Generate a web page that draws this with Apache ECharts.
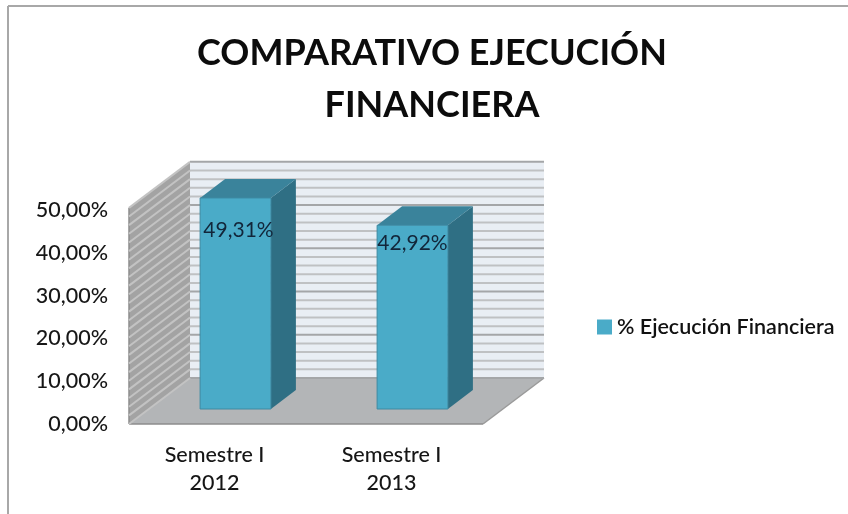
<!DOCTYPE html>
<html><head><meta charset="utf-8">
<style>html,body{margin:0;padding:0;background:#fff}#c{width:848px;height:514px}</style>
<script src="https://cdn.jsdelivr.net/npm/echarts@6/dist/echarts.min.js"></script>
</head><body><div id="c"></div>
<script>
const categories = ['Semestre I\n2012', 'Semestre I\n2013'];
const seriesName = '% Ejecución Financiera';
const values = [49.31, 42.92];
const valueLabels = ['49,31%', '42,92%'];
const gridValues = [0,2,4,6,8,10,12,14,16,18,20,22,24,26,28,30,32,34,36,38,40,42,44,46,48,50];
const majorValues = [0,10,20,30,40,50];
const tickLabels = ['0,00%','10,00%','20,00%','30,00%','40,00%','50,00%'];
const titleText = 'COMPARATIVO EJECUCIÓN\nFINANCIERA';

const FONT = 'Lato';
const WALL = [61, -46], INSET = [18, -15], BAR = [25, -19];
const WALL_SCALE = 1.01;
const LABEL_DROP = [32, 18], LABEL_SHIFT = [3, 0];

const poly = (pts, fill, stroke) => ({type:'polygon', shape:{points:pts},
  style:{fill, stroke: stroke || null, lineWidth: stroke ? 1 : 0}});

const chart = echarts.init(document.getElementById('c'), null, {renderer:'canvas'});
chart.setOption({
  animation:false,
  backgroundColor:'#fff',
  title:{text:titleText, left:432, top:27, padding:0, textAlign:'center',
    textStyle:{fontFamily:FONT, fontSize:36, fontWeight:'bold', color:'#0c0c0c', lineHeight:52}},
  legend:{data:[seriesName], left:597, top:316, padding:0, itemWidth:15, itemHeight:15, itemGap:3, icon:'rect',
    selectedMode:false,
    textStyle:{fontFamily:FONT, fontSize:21.5, fontWeight:600, color:'#111', padding:[0,0,0,0]}},
  grid:{left:129, top:210, width:354, height:214},
  xAxis:{type:'category', data:categories, axisLine:{show:false}, axisTick:{show:false},
    axisLabel:{fontFamily:FONT, fontSize:21.5, fontWeight:500, lineHeight:28, color:'#161616', margin:17, interval:0, padding:[0,6,0,0]}},
  yAxis:{type:'value', min:0, max:50, interval:10, splitLine:{show:false}, axisLine:{show:false}, axisTick:{show:false},
    axisLabel:{fontFamily:FONT, fontSize:21.5, fontWeight:500, color:'#161616', margin:21,
      formatter:v => tickLabels[majorValues.indexOf(v)]}},
  series:[
    {type:'custom', name:'walls', silent:true, z:1, data:[[0,50]], encode:{x:-1,y:[0,1]},
     renderItem(p, api){
       const a = api.coord([0, 0]), t = api.coord([0, 50]);
       const x0 = p.coordSys.x, x1 = x0 + p.coordSys.width, y0 = a[1], yT = y0 - (y0 - t[1]) * WALL_SCALE;
       const bx0 = x0 + WALL[0], bx1 = x1 + WALL[0], by0 = y0 + WALL[1], byT = yT + WALL[1];
       return {type:'group', children:[
         poly([[bx0,byT],[bx1,byT],[bx1,by0],[bx0,by0]], '#e9eef4'),
         poly([[x0,y0],[x0,yT],[bx0,byT],[bx0,by0]], '#a3a3a3'),
         poly([[x0,y0],[x1,y0],[bx1,by0],[bx0,by0]], '#b3b5b7'),
         {type:'line', shape:{x1:x0,y1:y0,x2:x1,y2:y0}, style:{stroke:'#8c8c8c',lineWidth:1.5}},
         {type:'line', shape:{x1:x1,y1:y0,x2:bx1,y2:by0}, style:{stroke:'#9a9a9a',lineWidth:1.5}},
         {type:'line', shape:{x1:x0,y1:y0,x2:x0,y2:yT}, style:{stroke:'#8c8c8c',lineWidth:1.5}}
       ]};
     }},
    {type:'custom', name:'gridlines', silent:true, z:2, data:gridValues.map(v => [v]), encode:{x:-1,y:0},
     renderItem(p, api){
       const v = api.value(0), c = api.coord([0, v]), zero = api.coord([0, 0]);
       const x0 = p.coordSys.x, x1 = x0 + p.coordSys.width, major = majorValues.includes(v);
       const y = zero[1] - (zero[1] - c[1]) * WALL_SCALE;
       const bx0 = x0 + WALL[0], bx1 = x1 + WALL[0], by = y + WALL[1];
       return {type:'group', children:[
         {type:'line', shape:{x1:bx0,y1:by,x2:bx1,y2:by},
          style:{stroke: major ? '#a4a6a8' : '#bfc1c3', lineWidth: 2}},
         {type:'line', shape:{x1:x0,y1:y,x2:bx0,y2:by}, style:{stroke:'#c3c3c3', lineWidth:2}}
       ]};
     }},
    {type:'custom', name:seriesName, silent:true, z:3, itemStyle:{color:'#4aabc8'},
     data:values.map((v,i) => [i,v]), encode:{x:0,y:1},
     renderItem(p, api){
       const i = api.value(0), val = api.value(1);
       const top = api.coord([i, val]), base = api.coord([i, 0]);
       const w = api.size([1,0])[0] * 0.4;
       const x0 = top[0] - w/2 + INSET[0], x1 = x0 + w;
       const yT = top[1] + INSET[1], yB = base[1] + INSET[1];
       const [dx, dy] = BAR;
       return {type:'group', children:[
         poly([[x1,yT],[x1+dx,yT+dy],[x1+dx,yB+dy],[x1,yB]], '#2f6f84'),
         poly([[x0,yT],[x0+dx,yT+dy],[x1+dx,yT+dy],[x1,yT]], '#3a839b'),
         poly([[x0,yT],[x1,yT],[x1,yB],[x0,yB]], '#4aabc8', '#3d8aa3'),
         {type:'text', style:{text:valueLabels[i], x:(x0+x1)/2+LABEL_SHIFT[i], y:yT+LABEL_DROP[i], align:'center', verticalAlign:'middle',
           fontFamily:FONT, fontSize:21, fill:'#12263a'}}
       ]};
     }}
  ],
  graphic:[
    {type:'line', shape:{x1:8,y1:6,x2:8,y2:514}, style:{stroke:'#a8a8a8',lineWidth:2}, silent:true},
    {type:'line', shape:{x1:8,y1:6,x2:848,y2:6}, style:{stroke:'#a8a8a8',lineWidth:2}, silent:true}
  ]
});
</script></body></html>
